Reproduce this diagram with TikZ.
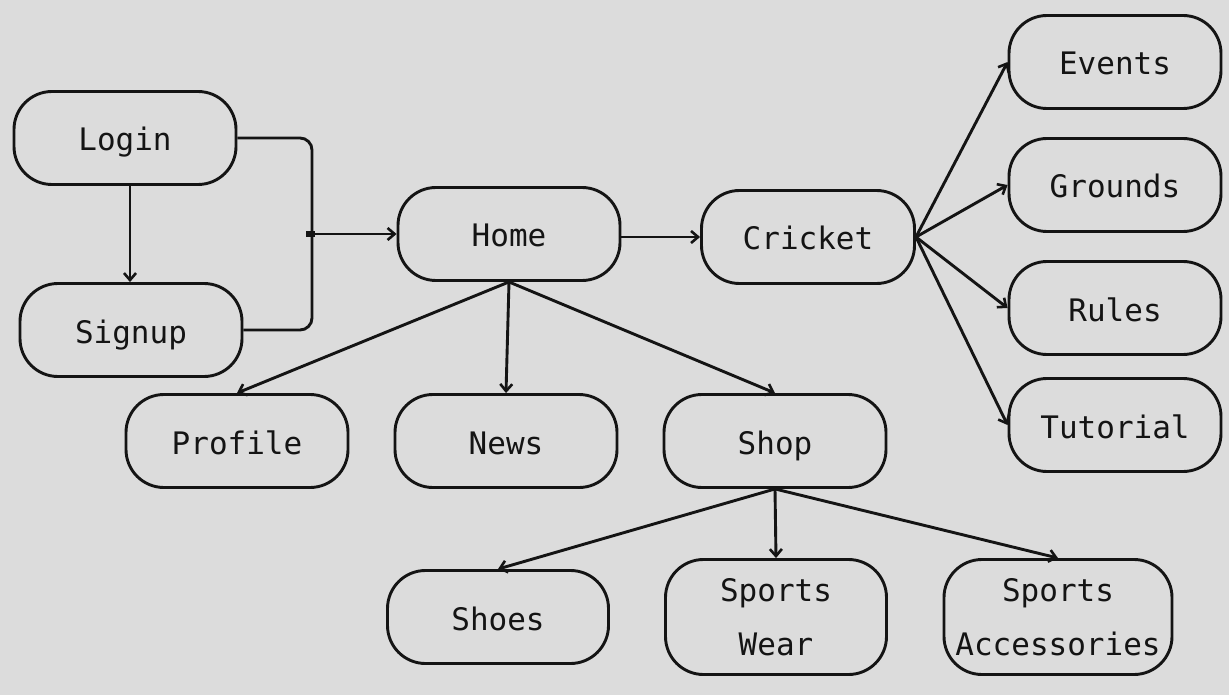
\documentclass[tikz,border=0pt]{standalone}
\usepackage{fontspec}
\setmonofont{DejaVu Sans Mono}
\usetikzlibrary{arrows.meta}
\definecolor{bgc}{RGB}{220,220,220}
\definecolor{ink}{RGB}{20,20,20}
\tikzset{
  box/.style={draw=ink, line width=2.9pt, rounded corners=38pt, minimum width=222pt, minimum height=93pt,
    align=center, inner sep=2pt, font=\ttfamily\fontsize{31}{54}\selectfont, text=ink},
  sbox/.style={box, text height=28pt, text depth=2pt},
  conn/.style={draw=ink, line width=2.9pt},
  arr/.style={conn, -{Straight Barb[length=7pt,width=12pt,line width=2.6pt]}},
}
\begin{document}
\begin{tikzpicture}[x=1pt,y=-1pt]
\fill[bgc] (0,0) rectangle (1229,695);
\useasboundingbox (0,0) rectangle (1229,695);

\node[sbox] (login) at (125,138) {Login};
\node[sbox] (signup) at (131,330) {Signup};
\node[sbox] (home) at (509,234) {Home};
\node[sbox, minimum width=213pt] (cricket) at (808,237) {Cricket};
\node[sbox, minimum width=212pt] (events) at (1115,62) {Events};
\node[sbox, minimum width=212pt] (grounds) at (1115,185) {Grounds};
\node[sbox, minimum width=212pt] (rules) at (1115,308) {Rules};
\node[sbox, minimum width=212pt] (tutorial) at (1115,425) {Tutorial};
\node[sbox] (profile) at (237,441) {Profile};
\node[sbox] (news) at (506,441) {News};
\node[sbox] (shop) at (775,441) {Shop};
\node[sbox, minimum width=221pt] (shoes) at (498,617) {Shoes};
\node[box, minimum width=221pt, minimum height=115pt] (wear) at (776,617) {Sports\\Wear};
\node[box, minimum width=228pt, minimum height=115pt, inner sep=0pt] (acc) at (1058,617) {Sports\\Accessories};

\coordinate (j) at (312,234);

\draw[arr] ([xshift=5pt]login.south) -- ([xshift=-1pt]signup.north);
\draw[conn, rounded corners=12pt] (login.east) -- (login.east -| j) -- (signup.east -| j) -- (signup.east);
\draw[arr] (j) -- (home.west);
\draw[ink, line width=5.5pt] ([xshift=-6pt]j) -- ([xshift=3pt]j);

\draw[arr] (home.east |- cricket.west) -- (cricket.west);
\foreach \t in {events,grounds,rules,tutorial}
  \draw[arr] (cricket.east) -- (\t.west);

\foreach \t in {profile,news,shop}
  \draw[arr] (home.south) -- (\t.north);

\foreach \t in {shoes,wear,acc}
  \draw[arr] (shop.south) -- (\t.north);
\end{tikzpicture}
\end{document}
